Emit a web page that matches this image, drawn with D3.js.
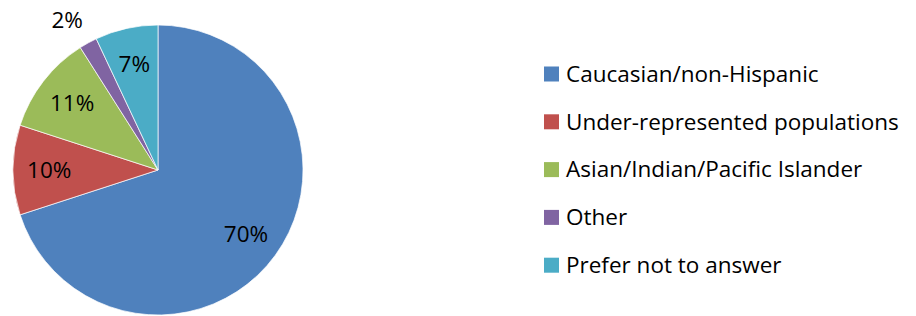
<!DOCTYPE html>
<html>
<head>
<meta charset="utf-8">
<script src="https://cdn.jsdelivr.net/npm/d3@7"></script>
<style>
    body { margin: 0; background: #fff; }
    text { font-family: "Open Sans", "Liberation Sans", sans-serif; fill: #000; }
</style>
</head>
<body>
<div id="chart"></div>
<script>
// data
const categories = ['Caucasian/non-Hispanic', 'Under-represented populations', 'Asian/Indian/Pacific Islander', 'Other', 'Prefer not to answer'];
const shares = [70, 10, 11, 2, 7];
const colors = ['#4F81BD', '#C0504D', '#9BBB59', '#8064A2', '#4BACC6'];

const width = 916;
const height = 316;
const cx = 158, cy = 170, radius = 145;

const svg = d3.select('#chart')
    .append('svg')
    .attr('width', width)
    .attr('height', height);

const data = categories.map((c, i) => ({ name: c, value: shares[i], color: colors[i] }));

const pie = d3.pie().sort(null).value(d => d.value);
const arcs = pie(data);

const arc = d3.arc().innerRadius(0).outerRadius(radius);
const labelArc = d3.arc().innerRadius(radius * 0.75).outerRadius(radius * 0.75);
const outerLabelArc = d3.arc().innerRadius(radius * 1.2).outerRadius(radius * 1.2);

const g = svg.append('g').attr('transform', `translate(${cx},${cy})`);

g.selectAll('path.slice')
    .data(arcs)
    .enter()
    .append('path')
    .attr('class', 'slice')
    .attr('d', arc)
    .attr('fill', d => d.data.color)
    .attr('stroke', '#fff')
    .attr('stroke-width', 0.7);

// small slices get their label outside (nudged left like excel does)
g.selectAll('text.pct')
    .data(arcs)
    .enter()
    .append('text')
    .attr('class', 'pct')
    .attr('transform', d => {
        if (d.data.value < 5) {
            const p = outerLabelArc.centroid(d);
            return `translate(${p[0] - 7},${p[1] + 3})`;
        }
        const p = labelArc.centroid(d);
        return `translate(${p[0]},${p[1]})`;
    })
    .attr('text-anchor', 'middle')
    .attr('dy', '0.35em')
    .style('font-size', '22.5px')
    .text(d => d.data.value + '%');

// legend
const legend = svg.append('g').attr('transform', 'translate(544,74)');
const rowH = 47.8;

const rows = legend.selectAll('g.row')
    .data(data)
    .enter()
    .append('g')
    .attr('class', 'row')
    .attr('transform', (d, i) => `translate(0,${i * rowH})`);

rows.append('rect')
    .attr('x', 0)
    .attr('y', -7.5)
    .attr('width', 15)
    .attr('height', 15)
    .attr('fill', d => d.color);

rows.append('text')
    .attr('x', 22)
    .attr('dy', '0.35em')
    .style('font-size', '22.5px')
    .text(d => d.name);
</script>
</body>
</html>
